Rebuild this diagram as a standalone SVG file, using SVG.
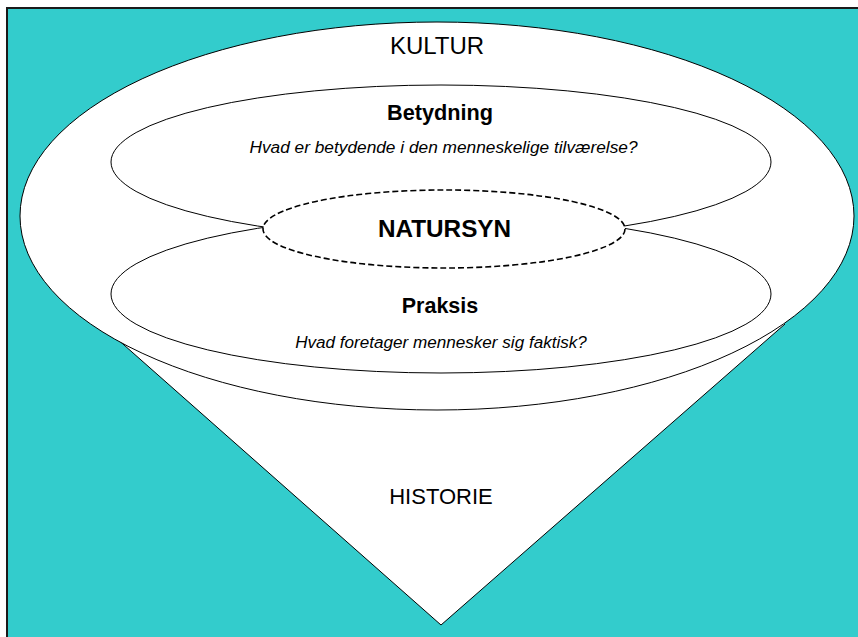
<svg xmlns="http://www.w3.org/2000/svg" width="858" height="637" viewBox="0 0 858 637">
<style>
.t{font-family:"Liberation Sans",Arial,sans-serif;fill:#000;text-anchor:middle}
.b{font-weight:bold}
.i{font-style:italic}
.sh{fill:#fff;stroke:#000;stroke-width:1}
</style>
<rect x="0" y="0" width="858" height="637" fill="#fff"/>
<rect x="7" y="8" width="860" height="640" fill="#33CCCC" stroke="#1a1a1a" stroke-width="2"/>
<g id="historie">
<polyline class="sh" points="98,322 441,625 785,324"/>
<text class="t" x="441" y="504" font-size="22">HISTORIE</text>
</g>
<g id="kultur">
<ellipse class="sh" cx="437" cy="216" rx="417" ry="194"/>
<text class="t" x="437" y="54" font-size="24">KULTUR</text>
</g>
<g id="betydning">
<ellipse class="sh" cx="441" cy="162" rx="330" ry="77"/>
<text class="t b" x="440" y="120" font-size="21.7">Betydning</text>
<text class="t i" x="443.5" y="153" font-size="17.3">Hvad er betydende i den menneskelige tilværelse?</text>
</g>
<g id="praksis">
<ellipse class="sh" cx="441" cy="294" rx="330" ry="79"/>
<text class="t b" x="440" y="313" font-size="21.5">Praksis</text>
<text class="t i" x="441" y="348" font-size="17.1">Hvad foretager mennesker sig faktisk?</text>
</g>
<g id="natursyn">
<ellipse cx="444" cy="229" rx="181" ry="39" fill="#fff" stroke="#000" stroke-width="1.6" stroke-dasharray="6,3"/>
<text class="t b" x="444.5" y="237" font-size="24.3">NATURSYN</text>
</g>
<g id="connectors"></g>
</svg>
